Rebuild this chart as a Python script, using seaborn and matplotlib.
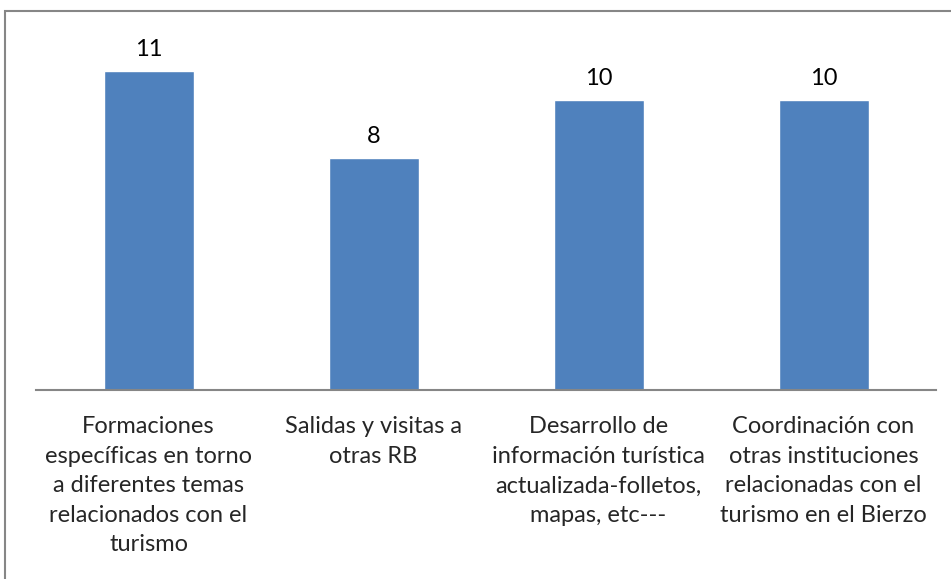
import matplotlib
matplotlib.use("Agg")
import matplotlib.pyplot as plt
import matplotlib.patches as patches
import seaborn as sns
import pandas as pd

# chart data
categories = [
    "Formaciones\nespecíficas en torno\na diferentes temas\nrelacionados con el\nturismo",
    "Salidas y visitas a\notras RB",
    "Desarrollo de\ninformación turística\nactualizada-folletos,\nmapas, etc---",
    "Coordinación con\notras instituciones\nrelacionadas con el\nturismo en el Bierzo",
]
values = [11, 8, 10, 10]

df = pd.DataFrame({"cat": categories, "val": values})

sns.set_style("white")
plt.rcParams["font.family"] = ["Lato", "DejaVu Sans"]

fig = plt.figure(figsize=(9.51, 5.79), dpi=100)
W, H = 951, 579
ax = fig.add_axes([36 / W, (H - 390) / H, 900 / W, 377 / H])

sns.barplot(x="cat", y="val", data=df, color="#4F81BD", width=0.4,
            saturation=1, ax=ax)
ax.set_ylim(0, 13)
ax.set_xlim(-0.5, 3.5)

ax.bar_label(ax.containers[0], fontsize=17, padding=8, color="black")

ax.set_xlabel("")
ax.set_ylabel("")
ax.set_yticks([])
ax.tick_params(axis="x", length=0, pad=19, labelsize=17)
for lbl in ax.get_xticklabels():
    lbl.set_linespacing(1.5)
    lbl.set_verticalalignment("top")

for side in ["top", "right", "left"]:
    ax.spines[side].set_visible(False)
ax.spines["bottom"].set_color("#868686")
ax.spines["bottom"].set_linewidth(1.5)

# outer chart frame
frame = patches.Rectangle((5 / W, -0.01), 1.0, (H - 11) / H + 0.01,
                          transform=fig.transFigure, fill=False,
                          edgecolor="#868686", linewidth=1.5)
fig.patches.append(frame)

fig.savefig("out.png", dpi=100)
